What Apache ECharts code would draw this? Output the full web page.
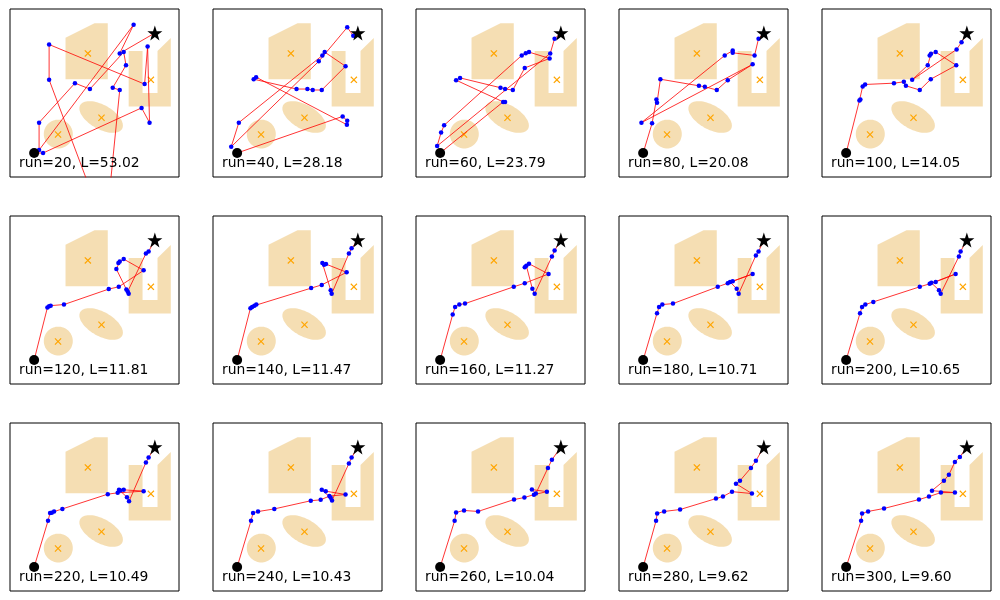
<!DOCTYPE html>
<html><head><meta charset="utf-8">
<script src="https://cdn.jsdelivr.net/npm/echarts@6/dist/echarts.min.js"></script>
<style>html,body{margin:0;padding:0;background:#fff}#c{width:1000px;height:600px}</style>
</head><body><div id="c"></div>
<script>
const runs = [20, 40, 60, 80, 100, 120, 140, 160, 180, 200, 220, 240, 260, 280, 300];
const lengths = ['53.02', '28.18', '23.79', '20.08', '14.05', '11.81', '11.47', '11.27', '10.71', '10.65', '10.49', '10.43', '10.04', '9.62', '9.60'];
const startPoint = [0, 0];
const goalPoint = [10, 10];
const obstaclePolygonA = [[2.6, 6.15], [6.1, 6.15], [6.1, 10.82], [5.0, 10.82], [2.6, 9.6]];
const obstaclePolygonU = [[7.83, 8.49], [7.83, 3.87], [11.32, 3.87], [11.32, 9.59], [10.22, 8.49], [10.22, 5.0], [8.98, 5.0], [8.98, 8.49]];
const obstacleCircle = [2.0, 1.58, 1.2];          // cx, cy, r
const obstacleEllipse = [5.55, 3.0, 2.0, 1.0, -30]; // cx, cy, semi-major, semi-minor, angle deg
const obstacleCenters = [[4.45, 8.30], [9.67, 6.10], [1.98, 1.54], [5.58, 2.94]];

const path20 = [[0.74,0.00],[8.90,3.76],[9.56,2.53],[9.40,8.87],[9.15,5.74],[1.24,9.04],[1.24,6.10],[5.93,-6.46],[7.09,5.25],[6.51,5.44],[7.61,7.31],[7.42,8.41],[4.62,5.33],[3.38,5.82],[0.41,2.53],[0.41,0.25],[8.24,10.69],[7.09,8.30]];
const path40 = [[8.74,3.05],[9.12,2.69],[9.09,2.36],[1.57,6.32],[1.37,6.15],[4.92,5.33],[5.82,5.33],[6.26,5.25],[7.01,5.25],[8.98,7.23],[7.25,8.41],[7.06,8.13],[0.14,2.53],[-0.49,0.52],[6.76,7.64],[9.12,10.47],[9.62,9.78]];
const path60 = [[5.22,4.26],[5.38,4.26],[1.32,6.07],[1.65,6.26],[5.00,5.44],[5.38,5.33],[6.02,5.25],[7.01,7.09],[9.07,7.88],[7.36,8.41],[7.09,8.32],[6.76,8.13],[0.33,2.31],[0.08,1.70],[-0.25,0.58],[9.12,8.30],[9.48,9.53]];
const path80 = [[0.74,2.47],[1.10,4.45],[1.15,4.18],[1.43,6.15],[4.62,5.60],[5.11,5.52],[6.10,5.25],[7.01,6.07],[9.07,7.39],[-0.14,2.53],[6.76,8.13],[7.42,8.54],[7.42,8.35],[9.23,8.13],[9.56,9.53]];
const path100 = [[1.10,4.37],[1.18,4.45],[1.37,5.55],[1.57,5.71],[3.96,5.82],[4.78,5.93],[4.95,5.60],[6.10,5.25],[7.01,6.15],[9.12,7.31],[7.42,8.41],[7.03,8.27],[6.92,8.13],[6.76,7.31],[5.47,6.10],[9.15,8.63],[9.56,9.23]];
const path120 = [[1.10,4.37],[1.24,4.48],[1.37,4.53],[2.47,4.62],[6.18,5.91],[7.01,6.10],[9.07,7.47],[7.42,8.41],[7.09,8.21],[6.98,8.08],[6.81,7.58],[7.64,5.88],[7.83,5.52],[7.75,5.71],[9.26,8.87],[9.48,9.04]];
const path140 = [[1.10,4.31],[1.24,4.42],[1.43,4.53],[1.59,4.62],[6.13,5.99],[7.01,6.26],[9.07,7.31],[7.36,7.99],[7.20,7.94],[7.06,8.08],[7.75,5.82],[7.83,5.52],[9.26,8.87],[9.48,9.31]];
const path160 = [[1.04,3.79],[1.24,4.42],[1.59,4.62],[2.06,4.70],[6.10,6.10],[7.01,6.40],[8.98,7.17],[7.36,8.02],[7.14,7.86],[7.01,7.72],[7.64,5.93],[7.83,5.52],[9.26,8.63],[9.48,9.12]];
const path180 = [[1.15,3.90],[1.32,4.42],[1.59,4.62],[2.47,4.70],[6.18,6.10],[7.01,6.40],[9.07,7.17],[7.42,6.57],[7.20,6.51],[7.75,5.93],[7.91,5.52],[9.34,8.71],[9.56,9.04]];
const path200 = [[1.15,3.90],[1.32,4.42],[1.59,4.62],[2.25,4.84],[6.10,6.10],[6.92,6.35],[9.07,7.17],[7.42,6.51],[7.06,6.43],[7.69,5.82],[7.83,5.52],[9.34,8.63],[9.48,9.04]];
const path220 = [[1.15,3.85],[1.32,4.51],[1.46,4.53],[1.65,4.62],[2.34,4.84],[6.10,6.07],[6.92,6.18],[9.07,6.32],[7.42,6.43],[7.03,6.43],[7.14,6.37],[7.69,5.82],[7.86,5.47],[9.26,8.71],[9.48,9.12]];
const path240 = [[1.15,3.85],[1.32,4.51],[1.73,4.62],[3.08,4.84],[6.10,5.52],[6.92,5.60],[7.64,5.91],[8.98,6.04],[7.34,6.32],[7.01,6.43],[7.75,5.77],[7.86,5.55],[9.26,8.63],[9.48,9.12]];
const path260 = [[1.20,3.85],[1.32,4.55],[1.98,4.71],[3.14,4.63],[6.12,5.62],[6.98,5.79],[7.77,6.03],[8.84,6.28],[7.60,6.45],[7.93,6.12],[8.93,8.26],[9.26,8.93]];
const path280 = [[1.07,3.85],[1.16,4.46],[1.74,4.63],[3.06,4.79],[6.03,5.70],[6.61,5.87],[7.36,6.28],[9.01,6.12],[7.69,6.94],[8.02,7.19],[8.93,8.26],[9.34,8.85]];
const path300 = [[1.24,3.85],[1.32,4.46],[1.82,4.63],[3.14,4.88],[6.03,5.62],[6.86,5.87],[7.85,6.20],[9.01,6.20],[7.11,6.36],[8.10,7.19],[8.51,7.69],[9.01,8.76],[9.42,9.17]];
const paths = [path20, path40, path60, path80, path100, path120, path140, path160, path180, path200, path220, path240, path260, path280, path300];

const starPath = 'path://M50,0 L61.8,35.1 L98.1,35.1 L68.8,56.7 L79.4,91.0 L50,70 L20.6,91.0 L31.2,56.7 L1.9,35.1 L38.2,35.1 Z';
const crossPath = 'path://M0,1.2 L1.2,0 L5,3.8 L8.8,0 L10,1.2 L6.2,5 L10,8.8 L8.8,10 L5,6.2 L1.2,10 L0,8.8 L3.8,5 Z';

function ellipsePoints(cx, cy, a, b, angDeg, api) {
  const th = angDeg * Math.PI / 180, pts = [];
  for (let k = 0; k < 72; k++) {
    const t = k / 72 * 2 * Math.PI;
    const x = cx + a * Math.cos(t) * Math.cos(th) - b * Math.sin(t) * Math.sin(th);
    const y = cy + a * Math.cos(t) * Math.sin(th) + b * Math.sin(t) * Math.cos(th);
    pts.push(api.coord([x, y]));
  }
  return pts;
}
function obstacleRender(params, api) {
  const k = params.dataIndex;
  const style = { fill: '#F5DEB3', stroke: null };
  let pts;
  if (k === 0) pts = obstaclePolygonA.map(p => api.coord(p));
  else if (k === 1) pts = obstaclePolygonU.map(p => api.coord(p));
  else if (k === 2) pts = ellipsePoints(obstacleCircle[0], obstacleCircle[1], obstacleCircle[2], obstacleCircle[2], 0, api);
  else pts = ellipsePoints(obstacleEllipse[0], obstacleEllipse[1], obstacleEllipse[2], obstacleEllipse[3], obstacleEllipse[4], api);
  return { type: 'polygon', shape: { points: pts }, style: style };
}

const chart = echarts.init(document.getElementById('c'), null, { renderer: 'canvas' });
const grids = [], xAxes = [], yAxes = [], series = [], graphics = [];
const W = 169, H = 168;
for (let i = 0; i < 15; i++) {
  const c = i % 5, r = Math.floor(i / 5);
  const left = 10 + 203 * c, top = 9 + 207 * r;
  grids.push({ left: left, top: top, width: W, height: H, show: true, borderColor: '#000', borderWidth: 1, backgroundColor: '#fff' });
  xAxes.push({ gridIndex: i, type: 'value', min: -2, max: 12, show: false });
  yAxes.push({ gridIndex: i, type: 'value', min: -2, max: 12, show: false });
  series.push({ type: 'custom', xAxisIndex: i, yAxisIndex: i, data: obstacleCenters, renderItem: obstacleRender, z: 1, silent: true, clip: true });
  series.push({ type: 'scatter', xAxisIndex: i, yAxisIndex: i, data: obstacleCenters, symbol: crossPath, symbolSize: 7, itemStyle: { color: '#FFA500', opacity: 1 }, z: 2, silent: true });
  series.push({ type: 'line', xAxisIndex: i, yAxisIndex: i, data: [startPoint].concat(paths[i], [goalPoint]), symbol: 'none', lineStyle: { color: '#ff0000', width: 0.8, opacity: 1 }, z: 3, clip: true, silent: true });
  series.push({ type: 'scatter', xAxisIndex: i, yAxisIndex: i, data: paths[i], symbol: 'circle', symbolSize: 4.5, itemStyle: { color: '#0000ff', opacity: 1 }, z: 4, clip: true, silent: true });
  series.push({ type: 'scatter', xAxisIndex: i, yAxisIndex: i, data: [startPoint], symbol: 'circle', symbolSize: 10, itemStyle: { color: '#000', opacity: 1 }, z: 5, silent: true });
  series.push({ type: 'scatter', xAxisIndex: i, yAxisIndex: i, data: [goalPoint], symbol: starPath, symbolSize: 15, itemStyle: { color: '#000', opacity: 1 }, z: 5, silent: true });
  graphics.push({ type: 'text', left: left + 9, top: top + 147, z: 10, style: { text: 'run=' + runs[i] + ', L=' + lengths[i], font: '13.9px "DejaVu Sans"', fill: '#000' } });
}
chart.setOption({ animation: false, backgroundColor: '#fff', grid: grids, xAxis: xAxes, yAxis: yAxes, series: series, graphic: graphics });
</script></body></html>
